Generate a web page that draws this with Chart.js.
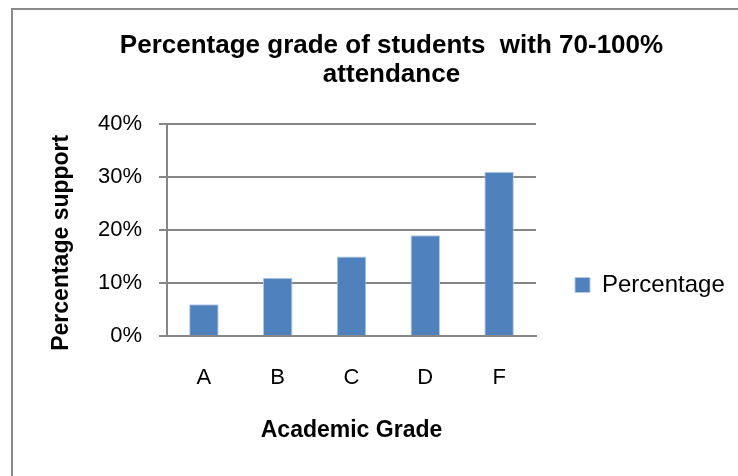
<!DOCTYPE html>
<html>
<head>
<meta charset="utf-8">
<script src="https://cdn.jsdelivr.net/npm/chart.js@4/dist/chart.umd.min.js"></script>
<style>
  html, body { margin: 0; padding: 0; background: #fff; overflow: hidden; }
  #wrap { position: relative; width: 738px; height: 476px; }
  #frame { position: absolute; left: 11px; top: 8px; width: 800px; height: 600px;
           border: 2px solid #8a8a8a; box-sizing: border-box; pointer-events: none; }
  canvas { position: absolute; left: 0; top: 0; }
</style>
</head>
<body>
<div id="wrap">
  <canvas id="grafico" width="738" height="476"></canvas>
  <div id="frame"></div>
</div>
<script>
// Datos
var grados = ['A', 'B', 'C', 'D', 'F'];
var porcentajes = [6, 11, 15, 19, 31];
var serie = 'Percentage';
var titulo = ['Percentage grade of students  with 70-100%', 'attendance'];

document.addEventListener('DOMContentLoaded', function() {

var gris = '#868686';
var fuente = 'Liberation Sans, Arial, sans-serif';

// la leyenda a la derecha queda limitada a 1/4 del ancho; se le da el ancho del original
var anchoLeyenda = {
    id: 'anchoLeyenda',
    afterInit: function(chart) {
        var fit = chart.legend.fit;
        chart.legend.fit = function() {
            fit.call(this);
            this.width = 199;
        };
    }
};

new Chart(document.getElementById('grafico').getContext('2d'), {
    type: 'bar',
    data: {
        labels: grados,
        datasets: [{
            label: serie,
            data: porcentajes,
            backgroundColor: '#4f81bd',
            borderColor: '#b4c8e4',
            borderWidth: 1,
            barPercentage: 0.4,
            categoryPercentage: 1
        }]
    },
    options: {
        responsive: false,
        animation: false,
        devicePixelRatio: 1,
        layout: { padding: { left: 48, right: 3, top: 31.5, bottom: 32 } },
        plugins: {
            title: {
                display: true,
                text: titulo,
                color: '#000',
                font: { family: fuente, size: 26, weight: 'bold', lineHeight: 1.115 },
                padding: { top: 0, bottom: 34.5 }
            },
            legend: {
                position: 'right',
                align: 'end',
                fullSize: false,
                labels: {
                    boxWidth: 15,
                    boxHeight: 15,
                    padding: 39,
                    color: '#000',
                    font: { family: fuente, size: 24 }
                }
            },
            tooltip: { enabled: false }
        },
        scales: {
            x: {
                grid: { display: false, drawTicks: false },
                border: { display: true, color: gris, width: 2 },
                ticks: { color: '#000', padding: 28.5, font: { family: fuente, size: 22 } },
                title: {
                    display: true,
                    text: 'Academic Grade',
                    color: '#000',
                    padding: 0,
                    font: { family: fuente, size: 23, weight: 'bold' }
                },
                afterFit: function(s) { s.height = 108; }
            },
            y: {
                min: 0,
                max: 40,
                grid: { color: gris, lineWidth: 2, tickLength: 8 },
                border: { display: true, color: gris, width: 2 },
                ticks: {
                    stepSize: 10,
                    padding: 17,
                    color: '#000',
                    font: { family: fuente, size: 22 },
                    callback: function(v) { return v + '%'; }
                },
                title: {
                    display: true,
                    text: 'Percentage support    ',
                    color: '#000',
                    padding: 0,
                    font: { family: fuente, size: 23, weight: 'bold' }
                },
                afterFit: function(s) { s.width = 119; }
            }
        }
    },
    plugins: [anchoLeyenda]
});
});
</script>
</body>
</html>
